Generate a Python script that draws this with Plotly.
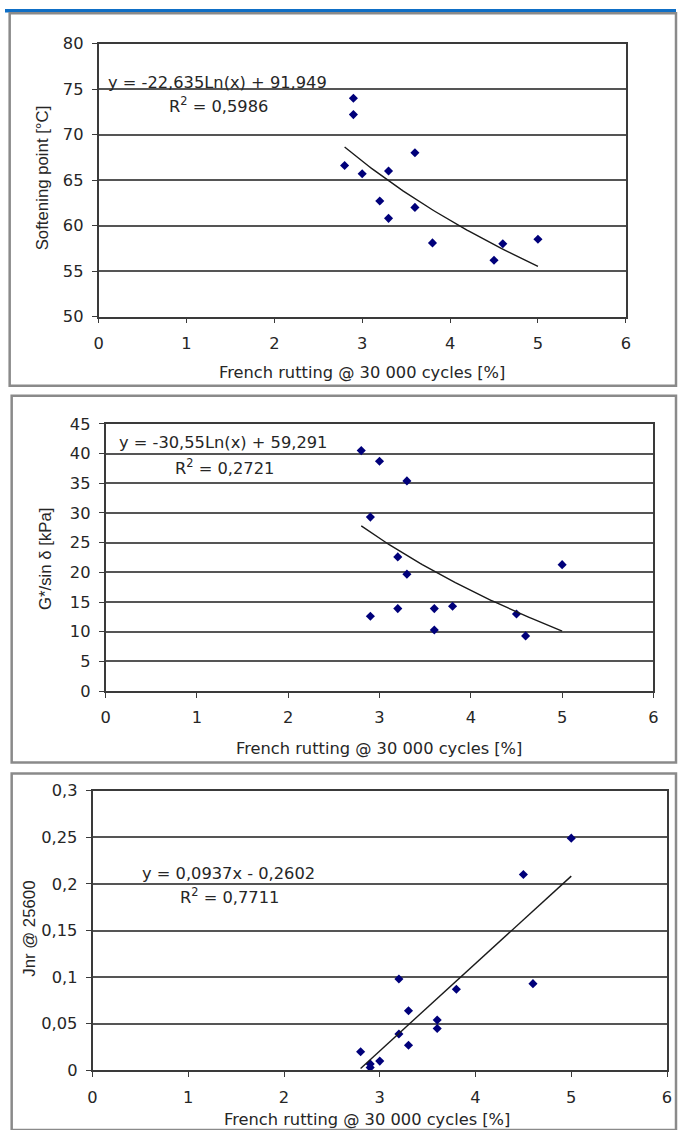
import numpy as np
import plotly.graph_objects as go

# Page geometry: the browser keeps an 8 px body margin and the captured
# window is slightly reduced, so layout positions are given in window
# pixels and converted to figure pixels below.
PAD = 8
SCALE = 0.984
X_SHIFT = 2.0       # small horizontal correction of the window mapping
X_STRETCH = 1.003
W, H = 681, 1140

# --- data -------------------------------------------------------------
# Softening point vs French rutting
rut_sp = [2.8, 2.9, 2.9, 3.0, 3.2, 3.3, 3.3, 3.6, 3.6, 3.8, 4.5, 4.6, 5.0]
softening_point = [66.6, 74.0, 72.2, 65.7, 62.7, 66.0, 60.8, 68.0, 62.0, 58.1, 56.2, 58.0, 58.5]
sp_a, sp_b = -22.635, 91.949          # y = a*Ln(x) + b
sp_r2 = "0,5986"

# G*/sin delta vs French rutting
rut_g = [2.8, 2.9, 2.9, 3.0, 3.2, 3.2, 3.3, 3.3, 3.6, 3.6, 3.8, 4.5, 4.6, 5.0]
g_sin_delta = [40.5, 29.3, 12.6, 38.7, 22.6, 13.9, 35.4, 19.7, 13.9, 10.3, 14.3, 13.0, 9.3, 21.3]
g_a, g_b = -30.55, 59.291             # y = a*Ln(x) + b
g_r2 = "0,2721"

# Jnr @ 25600 vs French rutting
rut_jnr = [2.8, 2.9, 2.9, 3.0, 3.2, 3.2, 3.3, 3.3, 3.6, 3.6, 3.8, 4.5, 4.6, 5.0]
jnr = [0.020, 0.007, 0.003, 0.010, 0.098, 0.039, 0.064, 0.027, 0.054, 0.045, 0.087, 0.210, 0.093, 0.249]
jnr_a, jnr_b = 0.0937, -0.2602        # y = a*x + b
jnr_r2 = "0,7711"

x_title = "French rutting @ 30 000 cycles [%]"


# --- helpers: window pixel -> paper fraction ----------------------------
def fx(px):
    px = px * X_STRETCH + X_SHIFT
    return min(max((px / SCALE - PAD) / W, 0), 1)


def fy(py):
    return min(max(1 - (py / SCALE - PAD) / H, 0), 1)


def fs(size):
    return round(size / SCALE, 2)


TXT = "#262626"
GRID = "#555555"
MARK = "#00007a"
HFONT = "DejaVu Sans"
VFONT = "Liberation Sans"

fig = go.Figure()

panels = [
    dict(x0=99, x1=624, yt=42.5, yb=315.7, yr=[50, 80], dy=5,
         x=rut_sp, y=softening_point, kind="log", a=sp_a, b=sp_b,
         eq="y = -22,635Ln(x) + 91,949", r2=sp_r2,
         eq_pos=(217, 81.5), r2_pos=(218, 103.5),
         ytitle="Softening point [°C]", yt_pos=(43, 177),
         xt_pos=(361.5, 372),
         box=(10.5, 12, 676.5, 385)),
    dict(x0=106, x1=651.5, yt=423, yb=690.5, yr=[0, 45], dy=5,
         x=rut_g, y=g_sin_delta, kind="log", a=g_a, b=g_b,
         eq="y = -30,55Ln(x) + 59,291", r2=g_r2,
         eq_pos=(223, 441.5), r2_pos=(224, 466.5),
         ytitle="G*/sin δ [kPa]", yt_pos=(46, 558),
         xt_pos=(378.5, 748),
         box=(12.5, 395, 676.5, 762)),
    dict(x0=93, x1=665, yt=790, yb=1070, yr=[0, 0.3], dy=0.05,
         x=rut_jnr, y=jnr, kind="lin", a=jnr_a, b=jnr_b,
         eq="y = 0,0937x - 0,2602", r2=jnr_r2,
         eq_pos=(228, 872.5), r2_pos=(229, 895),
         ytitle="Jnr @ 25600", yt_pos=(30, 928),
         xt_pos=(366, 1119),
         box=(12.5, 773, 677, 1150)),
]

annotations = []
shapes = []

# blue strip across the top of the page
shapes.append(dict(type="rect", xref="paper", yref="paper",
                   x0=0, x1=1, y0=1 - 3.5 / H, y1=1,
                   fillcolor="#0f6fc6", line=dict(width=0), layer="below"))

for i, p in enumerate(panels, start=1):
    xa = "x" if i == 1 else f"x{i}"
    ya = "y" if i == 1 else f"y{i}"

    # measured points
    fig.add_trace(go.Scatter(
        x=p["x"], y=p["y"], mode="markers", xaxis=xa, yaxis=ya,
        marker=dict(symbol="diamond", size=7, color=MARK),
        showlegend=False, hoverinfo="x+y"))

    # trendline from the stated regression equation
    xt = np.linspace(min(p["x"]), max(p["x"]), 80)
    if p["kind"] == "log":
        yt = p["a"] * np.log(xt) + p["b"]
    else:
        yt = p["a"] * xt + p["b"]
    fig.add_trace(go.Scatter(
        x=xt, y=yt, mode="lines", xaxis=xa, yaxis=ya,
        line=dict(color="#1a1a1a", width=1.4),
        showlegend=False, hoverinfo="skip"))

    xkey = "xaxis" if i == 1 else f"xaxis{i}"
    ykey = "yaxis" if i == 1 else f"yaxis{i}"
    fig.update_layout(**{
        xkey: dict(
            domain=[fx(p["x0"]), fx(p["x1"])], anchor=ya,
            range=[0, 6], dtick=1, tick0=0,
            showgrid=False, zeroline=False,
            showline=True, linecolor="#3a3a3a", linewidth=1.6, mirror=True,
            ticks="outside", ticklen=5, tickcolor="#3a3a3a", tickwidth=1.4,
            ticklabelstandoff=6,
            tickfont=dict(family=HFONT, size=fs(16), color=TXT)),
        ykey: dict(
            domain=[fy(p["yb"]), fy(p["yt"])], anchor=xa,
            range=p["yr"], dtick=p["dy"], tick0=0,
            showgrid=True, gridcolor=GRID, gridwidth=1.5, zeroline=False,
            showline=True, linecolor="#3a3a3a", linewidth=1.6, mirror=True,
            ticks="outside", ticklen=5, tickcolor="#3a3a3a", tickwidth=1.4,
            ticklabelstandoff=5,
            tickfont=dict(family=HFONT, size=fs(16), color=TXT)),
    })

    # regression equation and R²
    annotations.append(dict(
        text=p["eq"], xref="paper", yref="paper",
        x=fx(p["eq_pos"][0]), y=fy(p["eq_pos"][1]),
        xanchor="center", yanchor="middle", showarrow=False,
        font=dict(family=HFONT, size=fs(16), color=TXT)))
    annotations.append(dict(
        text="R<sup>2</sup> = " + p["r2"], xref="paper", yref="paper",
        x=fx(p["r2_pos"][0]), y=fy(p["r2_pos"][1]),
        xanchor="center", yanchor="middle", showarrow=False,
        font=dict(family=HFONT, size=fs(16), color=TXT)))

    # axis titles
    annotations.append(dict(
        text=x_title, xref="paper", yref="paper",
        x=fx(p["xt_pos"][0]), y=fy(p["xt_pos"][1]),
        xanchor="center", yanchor="middle", showarrow=False,
        font=dict(family=HFONT, size=fs(16), color=TXT)))
    annotations.append(dict(
        text=p["ytitle"], xref="paper", yref="paper",
        x=fx(p["yt_pos"][0]), y=fy(p["yt_pos"][1]), textangle=-90,
        xanchor="center", yanchor="middle", showarrow=False,
        font=dict(family=VFONT, size=fs(16.5), color=TXT)))

    # panel frame
    bx0, by0, bx1, by1 = p["box"]
    shapes.append(dict(type="rect", xref="paper", yref="paper",
                       x0=fx(bx0), x1=fx(bx1),
                       y0=fy(by1), y1=fy(by0),
                       line=dict(color="#8a8a8a", width=2.5),
                       fillcolor="rgba(0,0,0,0)", layer="below"))

fig.update_layout(
    width=W, height=H,
    margin=dict(l=0, r=0, t=0, b=0),
    paper_bgcolor="white", plot_bgcolor="white",
    separators=", ",
    annotations=annotations, shapes=shapes,
    showlegend=False,
)

fig.write_html("out.html")
